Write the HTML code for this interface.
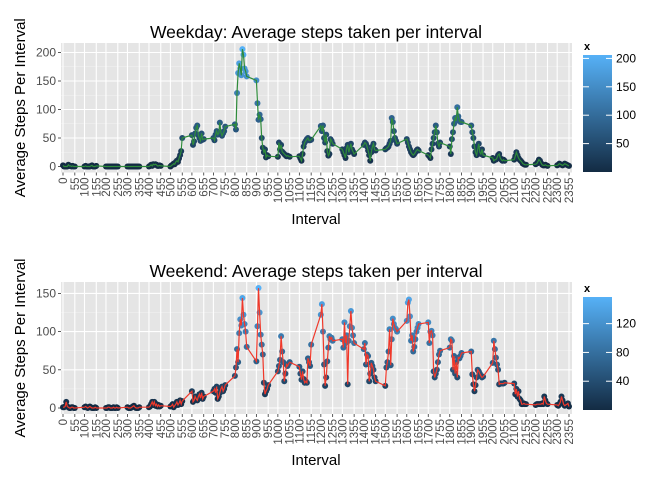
<!DOCTYPE html>
<html><head><meta charset="utf-8">
<style>
body{margin:0;background:#fff;}
svg text{font-family:"Liberation Sans",sans-serif;}
</style></head>
<body>
<svg id="chart" width="672" height="480" xmlns="http://www.w3.org/2000/svg">
<defs>
<linearGradient id="cg" x1="0" y1="1" x2="0" y2="0">
<stop offset="0" stop-color="#132B43"/><stop offset="1" stop-color="#56B1F7"/>
</linearGradient>
</defs>
</svg>
<script>
const weekdaySteps=[
2,0,0,0,0,3,1,1,0,1,0,0,
0,1,0,0,0,0,1,2,0,0,0,1,
0,0,0,0,0,0,0,0,0,0,0,0,
0,0,0,0,0,0,0,0,0,0,0,0,
0,1,3,1,4,3,4,3,1,1,2,1,
0,2,3,5,4,8,10,8,14,20,27,50,
55,38,44,58,68,72,55,50,45,58,47,48,
50,46,56,62,56,58,77,60,54,58,62,70,
74,65,129,164,181,172,160,206,196,172,167,158,
151,111,82,91,83,50,33,25,30,16,20,18,
17,42,30,38,26,24,22,20,18,19,18,17,
18,14,10,22,35,42,45,48,50,46,46,47,
71,62,72,50,42,56,27,19,22,48,45,40,
30,25,20,15,32,38,25,32,40,30,26,22,
38,42,40,35,28,20,10,25,35,40,30,28,
30,32,33,35,40,45,85,78,62,50,45,40,
48,42,35,30,25,22,20,22,25,28,30,28,
20,18,15,30,40,50,60,72,60,40,35,42,
35,22,48,60,75,85,80,104,88,80,78,78,
72,60,50,35,25,20,30,40,25,22,30,20,
15,10,12,12,15,20,22,15,12,10,12,10,
12,18,25,20,15,12,10,8,5,4,3,3,
4,5,8,12,10,6,3,2,2,3,2,1,
2,3,5,4,3,2,3,5,4,3,2,1];
const weekendSteps=[
1,1,2,8,2,1,0,0,1,1,0,0,
1,2,1,0,1,2,1,0,0,0,1,0,
0,0,1,1,0,0,0,1,0,0,1,0,
1,0,0,0,1,2,3,1,0,0,0,1,
1,2,5,8,4,8,3,5,2,4,2,3,
2,3,5,1,3,5,8,4,6,10,5,9,
22,8,10,15,12,10,15,18,13,20,12,15,
22,25,20,28,12,15,20,25,28,22,25,30,
42,53,77,60,98,116,108,144,122,110,100,80,
61,107,157,125,96,83,70,33,18,22,25,30,
48,55,63,94,74,60,35,45,57,55,58,60,
54,45,37,48,38,33,35,33,65,60,55,83,
122,136,100,57,29,40,61,79,94,90,92,88,
90,79,112,85,95,31,88,107,127,105,95,85,
77,85,57,70,68,35,45,59,55,50,40,35,
29,53,60,74,103,56,90,117,110,105,103,100,
114,138,142,120,88,95,74,80,90,100,105,110,
112,85,100,101,95,48,40,45,50,60,70,75,
79,90,88,50,68,45,60,40,66,65,68,72,
74,44,31,22,30,40,50,48,45,42,40,41,
59,88,77,66,57,50,31,32,32,32,32,33,
32,18,25,15,22,12,10,5,5,6,5,5,
4,5,5,5,5,5,6,5,15,10,6,5,
4,3,5,8,15,10,5,3,4,5,6,2];
const xTickLabels=[];
for(let h=0;h<24;h++){xTickLabels.push(h*100);xTickLabels.push(h*100+55);}
const weekdayYTicks=[0,50,100,150,200];
const weekendYTicks=[0,50,100,150];
const weekdayLegendTicks=[50,100,150,200];
const weekendLegendTicks=[40,80,120];

const NS="http://www.w3.org/2000/svg";
const svg=document.getElementById('chart');
function mk(tag,attrs,parent){const e=document.createElementNS(NS,tag);for(const k in attrs)e.setAttribute(k,attrs[k]);(parent||svg).appendChild(e);return e;}
function intervals(){const a=[];for(let h=0;h<24;h++)for(let m=0;m<60;m+=5)a.push(h*100+m);return a;}
const ivals=intervals();
function lerpColor(t){const a=[0x13,0x2B,0x43],b=[0x56,0xB1,0xF7];return 'rgb('+a.map((v,i)=>Math.round(v+(b[i]-v)*t)).join(',')+')';}

function panel(o){
  const g=mk('g',{});
  
  
  const L=61,R=572,T=o.top,B=o.bottom;
  const xs=v=>63+(v/2355)*(569-63);
  const ys=v=>o.y0-v*o.k;
  const bg=mk('rect',{x:L,y:T,width:R-L,height:B-T,fill:'#E5E5E5'},g);
  
  
  for(let i=0;i<o.yt.length;i++){
    const mid=o.yt[i]+(o.yt[1]-o.yt[0])/2;
    if(ys(mid)>T) mk('line',{x1:L,x2:R,y1:ys(mid),y2:ys(mid),stroke:'#F2F2F2','stroke-width':0.5},g);
  }
  o.yt.forEach(v=>{
    const gl=mk('line',{x1:L,x2:R,y1:ys(v),y2:ys(v),stroke:'#fff','stroke-width':1.1},g);
    
    
    mk('line',{x1:L-3,x2:L,y1:ys(v),y2:ys(v),stroke:'#333','stroke-width':0.8},g);
    const t=mk('text',{x:L-5,y:ys(v)+4,'text-anchor':'end','font-size':12,fill:'#4d4d4d'},g);
    t.textContent=v;
    
    
  });
  xTickLabels.forEach(v=>{
    const gl=mk('line',{x1:xs(v),x2:xs(v),y1:T,y2:B,stroke:'#fff','stroke-width':1.1},g);
    
    
    mk('line',{x1:xs(v),x2:xs(v),y1:B,y2:B+3,stroke:'#333','stroke-width':0.8},g);
    const t=mk('text',{x:0,y:0,'text-anchor':'end','font-size':11.5,fill:'#4d4d4d',transform:'translate('+(xs(v)+4)+','+(B+5)+') rotate(-90)'},g);
    t.textContent=v;
    
    
  });
  const maxV=Math.max(...o.data),minV=Math.min(...o.data);
  o.data.forEach((v,i)=>{
    const c=mk('circle',{cx:xs(ivals[i]),cy:ys(v),r:3,fill:lerpColor((v-minV)/(maxV-minV))},g);
    
    
  });
  const pts=o.data.map((v,i)=>xs(ivals[i]).toFixed(1)+','+ys(v).toFixed(1)).join(' ');
  const pl=mk('polyline',{points:pts,fill:'none',stroke:o.lineColor,'stroke-width':1.2},g);
  
  
  const title=mk('text',{x:316,y:o.titleY,'text-anchor':'middle','font-size':17.5,fill:'#000'},g);
  title.textContent=o.title;
  
  
  const yt=mk('text',{x:0,y:0,'text-anchor':'middle','font-size':15,fill:'#000',transform:'translate(25,'+((T+B)/2)+') rotate(-90)'},g);
  yt.textContent='Average Steps Per Interval';
  
  
  const xt=mk('text',{x:316,y:o.xTitleY,'text-anchor':'middle','font-size':15,fill:'#000'},g);
  xt.textContent='Interval';
  
  
  const lg=mk('g',{},g);
  
  
  const lt=mk('text',{x:584,y:o.legTop-5,'font-size':11,'font-weight':'bold',fill:'#000'},lg);
  lt.textContent='x';
  
  
  const bh=o.legBottom-o.legTop;
  mk('rect',{x:583,y:o.legTop,width:29,height:bh,fill:'url(#cg)'},lg);
  const lys=v=>o.legBottom-(v-minV)/(maxV-minV)*bh;
  o.lt.forEach(v=>{
    mk('line',{x1:583,x2:589,y1:lys(v),y2:lys(v),stroke:'#fff','stroke-width':1},lg);
    mk('line',{x1:606,x2:612,y1:lys(v),y2:lys(v),stroke:'#fff','stroke-width':1},lg);
    const t=mk('text',{x:616,y:lys(v)+4,'font-size':12,fill:'#000'},lg);
    t.textContent=v;
    
    
  });
}
panel({name:'weekday-panel',data:weekdaySteps,top:43,bottom:172.5,y0:166.5,k:0.57,yt:weekdayYTicks,lt:weekdayLegendTicks,lineColor:'#2E8B3A',title:'Weekday: Average steps taken per interval',titleY:38,xTitleY:224,legTop:55,legBottom:172});
panel({name:'weekend-panel',data:weekendSteps,top:282,bottom:414,y0:408,k:0.764,yt:weekendYTicks,lt:weekendLegendTicks,lineColor:'#F0382A',title:'Weekend: Average steps taken per interval',titleY:277,xTitleY:465,legTop:297,legBottom:410});
</script>
</body></html>
